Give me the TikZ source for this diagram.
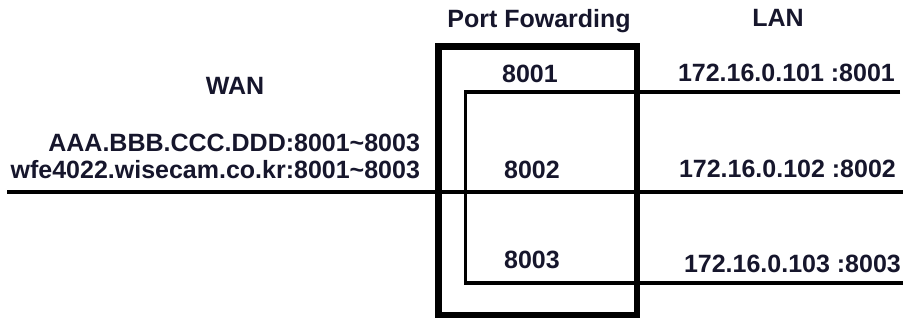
\documentclass[tikz,border=0pt]{standalone}
\usepackage{fontspec}
\setmainfont{Liberation Sans}
\definecolor{txt}{RGB}{22,22,44}
\begin{document}
\begin{tikzpicture}[x=1pt,y=-1pt,
  lbl/.style={inner sep=0pt,outer sep=0pt,text=txt,font=\fontsize{25}{30}\selectfont\bfseries},
  wire/.style={line width=3.5pt,black},
  boxframe/.style={draw=black,line width=6.5pt,inner sep=0pt,outer sep=0pt,minimum width=198.5pt,minimum height=268.5pt}]
\useasboundingbox (0,0) rectangle (903,320);
% titles
\node[lbl,anchor=base] (pftitle) at (539,28) {Port Fowarding};
\node[lbl,anchor=base] (lan) at (778,27) {LAN};
\node[lbl,anchor=base] (wan) at (235,95) {WAN};
\node[lbl,anchor=base east] (wanip) at (420,152) {AAA.BBB.CCC.DDD:8001\char`~8003};
\node[lbl,anchor=base east] (wanddns) at (420,179) {wfe4022.wisecam.co.kr:8001\char`~8003};
% box
\node[boxframe] (pf) at (537.75,180.75) {};
% ports
\node[lbl,anchor=base] (p1) at (530,83) {8001};
\node[lbl,anchor=base] (p2) at (532,179) {8002};
\node[lbl,anchor=base] (p3) at (532,269) {8003};
% lan hosts
\node[lbl,anchor=base west] (h1) at (678,82) {172.16.0.101 :8001};
\node[lbl,anchor=base west] (h2) at (679,178) {172.16.0.102 :8002};
\node[lbl,anchor=base west] (h3) at (684,273) {172.16.0.103 :8003};
% wires
\coordinate (wanend) at (7,192);
\coordinate (lan2end) at (903,192);
\coordinate (lan1end) at (900,92);
\coordinate (lan3end) at (903,283);
\coordinate (bt) at (465.3,92);
\coordinate (bb) at (465.3,283);
\draw[wire] (wanend) -- (lan2end);
\draw[wire,line join=miter] (lan1end) -- (bt) -- (bb) -- (lan3end);
\end{tikzpicture}
\end{document}
